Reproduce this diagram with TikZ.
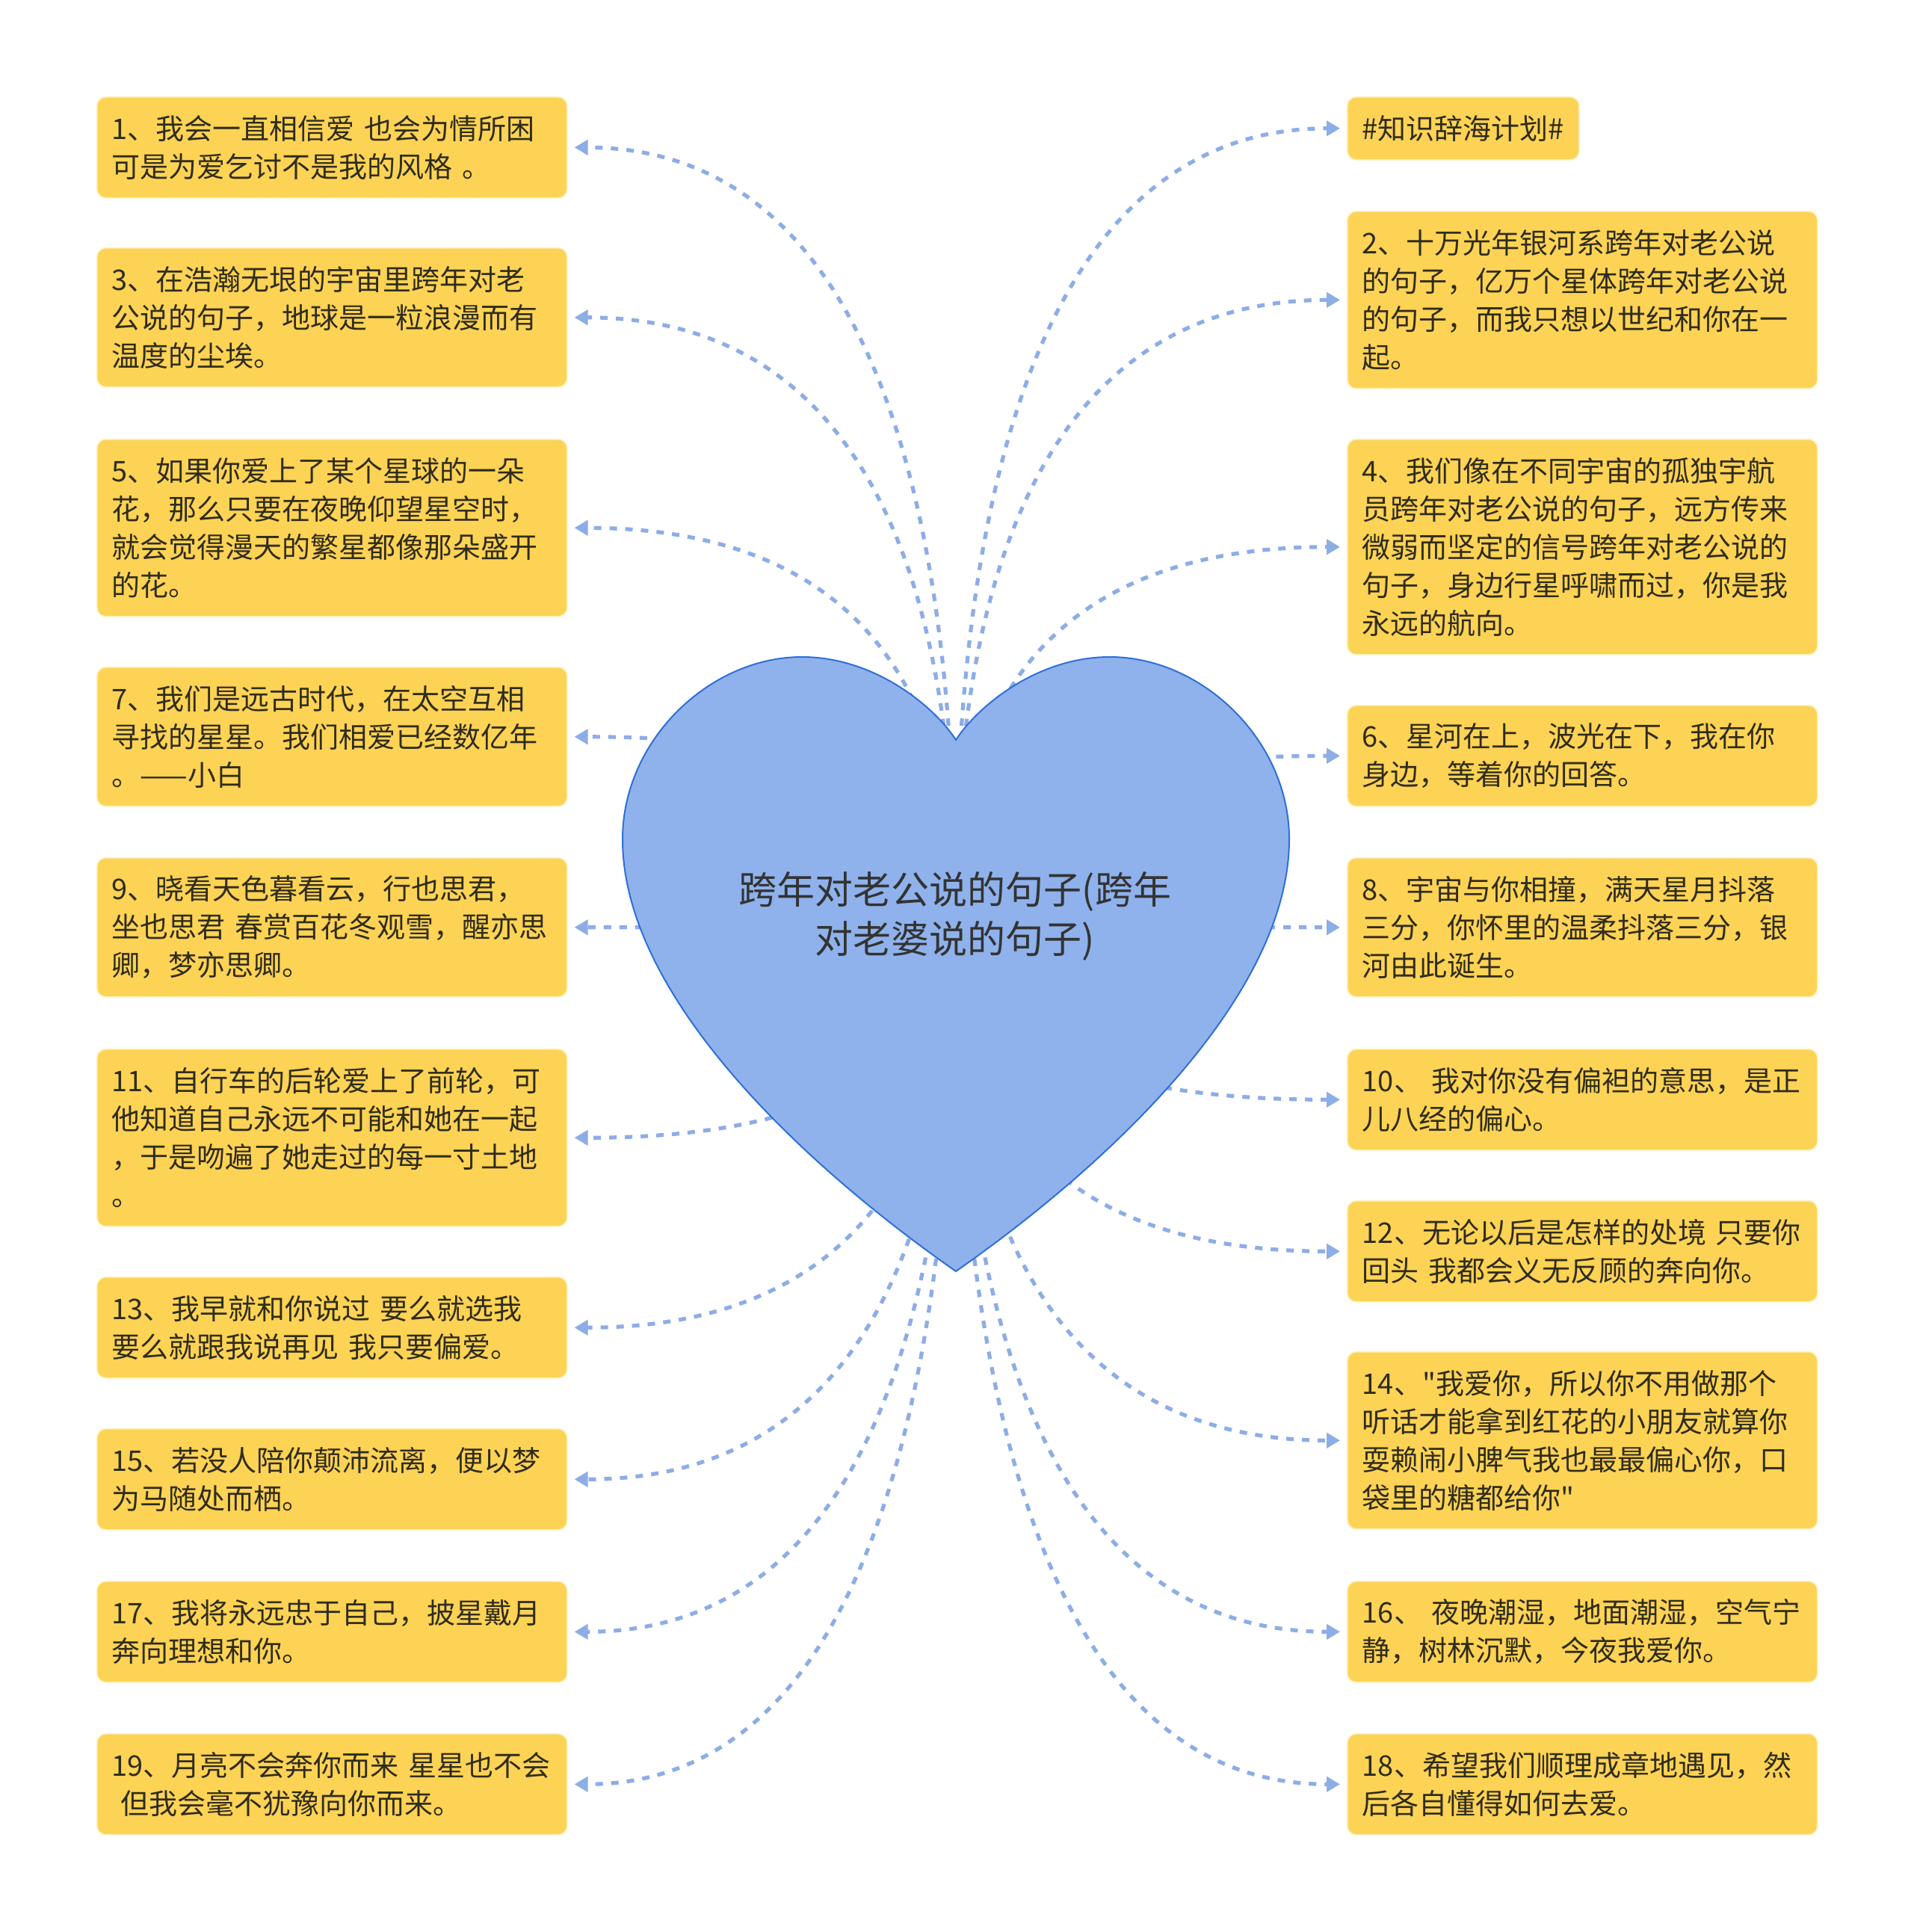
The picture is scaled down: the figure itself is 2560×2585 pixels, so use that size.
\documentclass[tikz,border=0pt]{standalone}
\usepackage{fontspec}
\setmainfont{Noto Sans CJK SC}[Ligatures=TeXOff]
\usetikzlibrary{arrows.meta,calc}
\setlength{\parindent}{0pt}
\definecolor{boxfill}{HTML}{FCD354}
\definecolor{boxline}{HTML}{FFEFB8}
\definecolor{inktext}{HTML}{302C1C}
\definecolor{heartfill}{HTML}{8FB2EC}
\definecolor{heartline}{HTML}{2E6FD8}
\definecolor{linkblue}{HTML}{8DADE6}

\begin{document}
\begin{tikzpicture}[x=0.5pt, y=-0.5pt,
  card/.style={draw=boxline, line width=0.8pt, fill=boxfill, rounded corners=6pt,
               anchor=north west, align=left, text=inktext, inner xsep=10pt,
               inner ysep=0pt, font=\fontsize{19}{25.5}\selectfont},
  wide/.style={text width=294.5pt},
  rows/.style={minimum height={25.5pt*#1+16.5pt}},
  link/.style={draw=linkblue, line width=2.6pt, dash pattern=on 5pt off 5.5pt,
               -{Triangle[length=9pt,width=10pt,fill=linkblue]}, shorten >=4.5pt}]
  \path[fill=white, use as bounding box] (0,0) rectangle (2560,2585);
  % left column
  \node[card, wide, rows=2] (l1) at (129,129) {1、我会一直相信爱~也会为情所困\\可是为爱乞讨不是我的风格~。};
  \node[card, wide, rows=3] (l3) at (129,331) {3、在浩瀚无垠的宇宙里跨年对老\\公说的句子，地球是一粒浪漫而有\\温度的尘埃。};
  \node[card, wide, rows=4] (l5) at (129,587) {5、如果你爱上了某个星球的一朵\\花，那么只要在夜晚仰望星空时，\\就会觉得漫天的繁星都像那朵盛开\\的花。};
  \node[card, wide, rows=3] (l7) at (129,892) {7、我们是远古时代，在太空互相\\寻找的星星。我们相爱已经数亿年\\。——小白};
  \node[card, wide, rows=3] (l9) at (129,1147) {9、晓看天色暮看云，行也思君，\\坐也思君~春赏百花冬观雪，醒亦思\\卿，梦亦思卿。};
  \node[card, wide, rows=4] (l11) at (129,1403) {11、自行车的后轮爱上了前轮，可\\他知道自己永远不可能和她在一起\\，于是吻遍了她走过的每一寸土地\\。};
  \node[card, wide, rows=2] (l13) at (129,1708) {13、我早就和你说过~要么就选我\\要么就跟我说再见~我只要偏爱。};
  \node[card, wide, rows=2] (l15) at (129,1911) {15、若没人陪你颠沛流离，便以梦\\为马随处而栖。};
  \node[card, wide, rows=2] (l17) at (129,2115) {17、我将永远忠于自己，披星戴月\\奔向理想和你。};
  \node[card, wide, rows=2] (l19) at (129,2319) {19、月亮不会奔你而来~星星也不会\\\hspace*{0.3em}但我会毫不犹豫向你而来。};
  % right column
  \node[card, rows=1] (r0) at (1802,129) {\#知识辞海计划\#};
  \node[card, wide, rows=4] (r2) at (1802,282) {2、十万光年银河系跨年对老公说\\的句子，亿万个星体跨年对老公说\\的句子，而我只想以世纪和你在一\\起。};
  \node[card, wide, rows=5] (r4) at (1802,587) {4、我们像在不同宇宙的孤独宇航\\员跨年对老公说的句子，远方传来\\微弱而坚定的信号跨年对老公说的\\句子，身边行星呼啸而过，你是我\\永远的航向。};
  \node[card, wide, rows=2] (r6) at (1802,943) {6、星河在上，波光在下，我在你\\身边，等着你的回答。};
  \node[card, wide, rows=3] (r8) at (1802,1147) {8、宇宙与你相撞，满天星月抖落\\三分，你怀里的温柔抖落三分，银\\河由此诞生。};
  \node[card, wide, rows=2] (r10) at (1802,1403) {10、~我对你没有偏袒的意思，是正\\儿八经的偏心。};
  \node[card, wide, rows=2] (r12) at (1802,1606) {12、无论以后是怎样的处境~只要你\\回头~我都会义无反顾的奔向你。};
  \node[card, wide, rows=4] (r14) at (1802,1808) {14、"我爱你，所以你不用做那个\\听话才能拿到红花的小朋友就算你\\耍赖闹小脾气我也最最偏心你，口\\袋里的糖都给你"};
  \node[card, wide, rows=2] (r16) at (1802,2115) {16、~夜晚潮湿，地面潮湿，空气宁\\静，树林沉默，今夜我爱你。};
  \node[card, wide, rows=2] (r18) at (1802,2319) {18、希望我们顺理成章地遇见，然\\后各自懂得如何去爱。};
  % connectors, drawn under the heart
  \coordinate (hub) at (1278,1223);
  \foreach \nd in {l1,l3,l5,l7,l9,l11,l13,l15,l17,l19}
    \draw[link] (hub) .. controls ($(hub)!2/3!(hub|-\nd.east)$) and ($(\nd.east)!2/3!(hub|-\nd.east)$) .. (\nd.east);
  \foreach \nd in {r0,r2,r4,r6,r8,r10,r12,r14,r16,r18}
    \draw[link] (hub) .. controls ($(hub)!2/3!(hub|-\nd.west)$) and ($(\nd.west)!2/3!(hub|-\nd.west)$) .. (\nd.west);
  % heart
  \draw[heartline, fill=heartfill, line width=1pt]
    (1279,990) .. controls (1250,945) and (1170,879) .. (1073,879)
    .. controls (950,879) and (833,990) .. (833,1123)
    .. controls (833,1330) and (1070,1555) .. (1279,1701)
    .. controls (1488,1555) and (1725,1330) .. (1725,1123)
    .. controls (1725,990) and (1608,879) .. (1485,879)
    .. controls (1388,879) and (1308,945) .. (1279,990) -- cycle;
  \node[align=center, text=black!80, font=\fontsize{25.5}{33}\selectfont] (core) at (1278,1226) {跨年对老公说的句子(跨年\\对老婆说的句子)};
\end{tikzpicture}
\end{document}
